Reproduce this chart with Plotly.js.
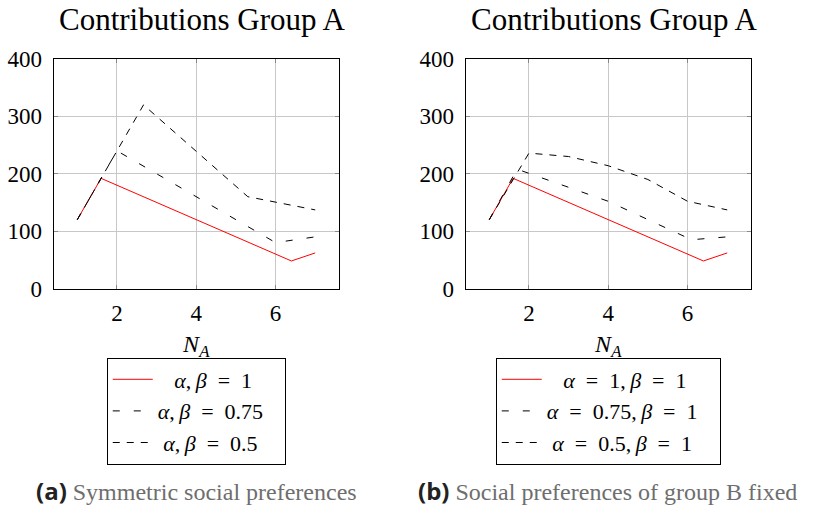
<!DOCTYPE html>
<html>
<head>
<meta charset="utf-8">
<script src="https://cdn.plot.ly/plotly-3.0.1.min.js"></script>
<style>html,body{margin:0;padding:0;background:#fff;}#chart{width:813px;height:511px;}</style>
</head>
<body>
<div id="chart"></div>
<script>
// ---- data ----
const titles = ["Contributions Group A", "Contributions Group A"];
const xTitle = "<i>N</i><sub><i>A</i></sub>";
const captions = [
  ["(a)", "Symmetric social preferences"],
  ["(b)", "Social preferences of group B fixed"]
];
// Panel (a): symmetric social preferences
const aNames = ["<i>α</i>, <i>β</i> = 1", "<i>α</i>, <i>β</i> = 0.75", "<i>α</i>, <i>β</i> = 0.5"];
const aX1 = [1, 1.6, 6.4, 7];
const aY1 = [120, 192, 48, 62];
const aX075 = [1, 2, 6, 7];
const aY075 = [120, 240, 80, 90];
const aX05 = [1, 2.67, 5.3, 7];
const aY05 = [120, 320, 160, 137];
// Panel (b): social preferences of group B fixed
const bNames = ["<i>α</i> = 1, <i>β</i> = 1", "<i>α</i> = 0.75, <i>β</i> = 1", "<i>α</i> = 0.5, <i>β</i> = 1"];
const bX1 = [1, 1.6, 6.4, 7];
const bY1 = [120, 192, 48, 62];
const bX075 = [1, 1.7, 4, 6.1, 7];
const bY075 = [120, 208, 152, 85, 90];
const bX05 = [1, 2, 3, 4, 5, 6, 7];
const bY05 = [120, 236, 230, 214, 190, 152, 137];
const xTicks = [2, 4, 6];
const yTicks = [0, 100, 200, 300, 400];

// ---- styling ----
const serif = "Liberation Serif";
const styles = [
  {color: "#ff0000", width: 1, dash: "solid"},
  {color: "#000000", width: 1, dash: "7px,14px"},
  {color: "#000000", width: 1, dash: "7px,7px"}
];
// legend text presentation: wider math spacing, centred-looking entries
const NB = "\u00a0";
const leadPad = [3, 0, 1];
function fmtName(n, k) {
  const t = n.replace(/ = /g, "\u2002=\u2002").replace(/, /g, ",\u2009");
  return NB.repeat(leadPad[k]) + t + NB.repeat(3);
}

function mk(x, y, name, s, xa, ya, leg) {
  return {x: x, y: y, name: fmtName(name, s), type: "scatter", mode: "lines",
    line: styles[s], xaxis: xa, yaxis: ya, legend: leg, showlegend: true};
}

const traces = [
  mk(aX1, aY1, aNames[0], 0, "x", "y", "legend"),
  mk(aX075, aY075, aNames[1], 1, "x", "y", "legend"),
  mk(aX05, aY05, aNames[2], 2, "x", "y", "legend"),
  mk(bX1, bY1, bNames[0], 0, "x2", "y2", "legend2"),
  mk(bX075, bY075, bNames[1], 1, "x2", "y2", "legend2"),
  mk(bX05, bY05, bNames[2], 2, "x2", "y2", "legend2")
];

const W = 813, H = 511;
const plotTop = 59, plotBot = 288.5;
const panels = [[53.5, 339], [465.5, 751]];

function xax(i) {
  return {
    domain: [panels[i][0] / W, panels[i][1] / W],
    range: [0.4, 7.6], tickvals: xTicks, ticktext: xTicks.map(String),
    showgrid: true, gridcolor: "#c8c8c8", gridwidth: 1, zeroline: false,
    showline: true, linecolor: "#000", linewidth: 1, mirror: "ticks",
    ticks: "inside", ticklen: 4, tickcolor: "#8a8a8a", ticklabelstandoff: 4,
    tickfont: {family: serif, size: 23, color: "#000"},
    anchor: i === 0 ? "y" : "y2",
    title: {text: xTitle, font: {family: serif, size: 24, color: "#000"}, standoff: 10}
  };
}
function yax(i) {
  return {
    domain: [1 - plotBot / H, 1 - plotTop / H],
    range: [0, 400], tickvals: yTicks, ticktext: yTicks.map(String),
    showgrid: true, gridcolor: "#c8c8c8", gridwidth: 1, zeroline: false,
    showline: true, linecolor: "#000", linewidth: 1, mirror: "ticks",
    ticks: "inside", ticklen: 4, tickcolor: "#8a8a8a", ticklabelstandoff: 6,
    tickfont: {family: serif, size: 23, color: "#000"},
    anchor: i === 0 ? "x" : "x2"
  };
}
function leg(i) {
  return {
    x: ((panels[i][0] + panels[i][1]) / 2) / W, xanchor: "center",
    y: 1 - 357.5 / H, yanchor: "top",
    bgcolor: "#fff", bordercolor: "#000", borderwidth: 1,
    font: {family: serif, size: 22, color: "#000"},
    itemwidth: 40, tracegroupgap: 0
  };
}

const annotations = [];
titles.forEach((t, i) => {
  annotations.push({text: t, xref: "paper", yref: "paper",
    x: ((panels[i][0] + panels[i][1]) / 2 + 6) / W, y: 1 - 19 / H,
    xanchor: "center", yanchor: "middle", showarrow: false,
    font: {family: serif, size: 31, color: "#000"}});
});
const capCenters = [196.5, 607.5];
captions.forEach((c, i) => {
  annotations.push({
    text: "<b><span style='font-family:Open Sans;color:#222'>" + c[0] + "</span></b> " + c[1],
    xref: "paper", yref: "paper", x: capCenters[i] / W, y: 1 - 490 / H,
    xanchor: "center", yanchor: "middle", showarrow: false,
    font: {family: serif, size: 24, color: "#6e6e6e"}});
});

const layout = {
  width: W, height: H, margin: {l: 0, r: 0, t: 0, b: 0},
  paper_bgcolor: "#fff", plot_bgcolor: "#fff",
  xaxis: xax(0), yaxis: yax(0), xaxis2: xax(1), yaxis2: yax(1),
  legend: leg(0), legend2: leg(1),
  annotations: annotations, showlegend: true
};

Plotly.newPlot("chart", traces, layout, {displayModeBar: false, staticPlot: true});
</script>
</body>
</html>
